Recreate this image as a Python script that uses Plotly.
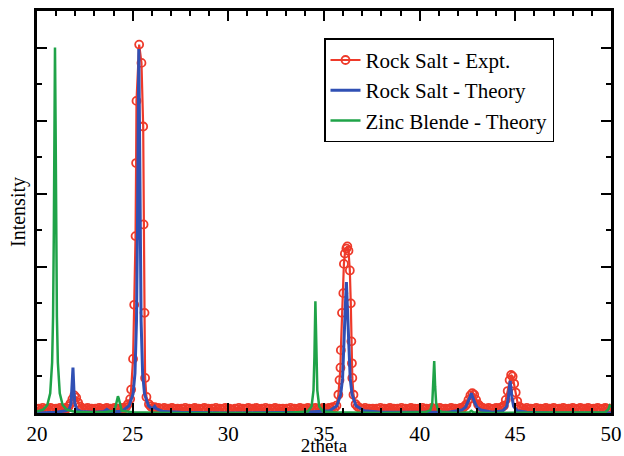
import plotly.graph_objects as go

# ---------------- data ----------------
expt_x = [20.0, 20.1, 20.2, 20.3, 20.4, 20.5, 20.6, 20.7, 20.8, 20.9, 21.0, 21.1, 21.2, 21.3,
          21.4, 21.5, 21.55,
          21.65, 21.75, 21.85, 21.95, 22.05, 22.15, 22.25,
          22.35, 22.45, 22.55, 22.65, 22.75, 22.85, 22.95, 23.05, 23.15, 23.25, 23.35, 23.45,
          23.55, 23.65, 23.75, 23.85, 23.95, 24.05, 24.15, 24.25, 24.35, 24.45, 24.55, 24.65,
          24.75,
          24.87, 24.92, 25.02, 25.08, 25.15, 25.18, 25.20, 25.34, 25.46, 25.55, 25.57,
          25.62, 25.65, 25.72, 25.85,
          25.95, 26.05, 26.15, 26.25, 26.35, 26.45, 26.55, 26.65, 26.75, 26.85, 26.95, 27.05,
          27.15, 27.25, 27.35, 27.45, 27.55, 27.65, 27.75, 27.85, 27.95, 28.05, 28.15, 28.25,
          28.35, 28.45, 28.55, 28.65, 28.75, 28.85, 28.95, 29.05, 29.15, 29.25, 29.35, 29.45,
          29.55, 29.65, 29.75, 29.85, 29.95, 30.05, 30.15, 30.25, 30.35, 30.45, 30.55, 30.65,
          30.75, 30.85, 30.95, 31.05, 31.15, 31.25, 31.35, 31.45, 31.55, 31.65, 31.75, 31.85,
          31.95, 32.05, 32.15, 32.25, 32.35, 32.45, 32.55, 32.65, 32.75, 32.85, 32.95, 33.05,
          33.15, 33.25, 33.35, 33.45, 33.55, 33.65, 33.75, 33.85, 33.95, 34.05, 34.15, 34.25,
          34.35, 34.45, 34.55, 34.65, 34.75, 34.85, 34.95, 35.05, 35.15, 35.25, 35.35, 35.45,
          35.55, 35.65,
          35.75, 35.81, 35.86, 35.88, 35.94, 36.01, 36.04, 36.09, 36.17, 36.22, 36.28,
          36.35, 36.40, 36.43, 36.46, 36.48, 36.54, 36.65,
          36.75, 36.85, 36.95, 37.05, 37.15, 37.25, 37.35, 37.45, 37.55, 37.65, 37.75, 37.85,
          37.95, 38.05, 38.15, 38.25, 38.35, 38.45, 38.55, 38.65, 38.75, 38.85, 38.95, 39.05,
          39.15, 39.25, 39.35, 39.45, 39.55, 39.65, 39.75, 39.85, 39.95, 40.05, 40.15, 40.25,
          40.35, 40.45, 40.55, 40.65, 40.75, 40.85, 40.95, 41.05, 41.15, 41.25, 41.35, 41.45,
          41.55, 41.65, 41.75, 41.85, 41.95, 42.05, 42.15, 42.22,
          42.3, 42.38, 42.45, 42.55, 42.65, 42.75, 42.85, 42.95, 43.05, 43.12, 43.2,
          43.3, 43.4, 43.5, 43.6, 43.7, 43.8, 43.9, 44.0, 44.1, 44.2, 44.3,
          44.4, 44.5, 44.6, 44.7, 44.78, 44.86, 44.94, 45.02, 45.1, 45.2,
          45.3, 45.4, 45.5, 45.6, 45.7, 45.8, 45.9, 46.0, 46.1, 46.2, 46.3, 46.4, 46.5, 46.6,
          46.7, 46.8, 46.9, 47.0, 47.1, 47.2, 47.3, 47.4, 47.5, 47.6, 47.7, 47.8, 47.9, 48.0,
          48.1, 48.2, 48.3, 48.4, 48.5, 48.6, 48.7, 48.8, 48.9, 49.0, 49.1, 49.2, 49.3, 49.4,
          49.5, 49.6, 49.7, 49.8, 49.9, 50.0]
expt_y = [0.05, 0.06, 0.04, 0.07, 0.05, 0.06, 0.05, 0.07, 0.06, 0.05, 0.06, 0.05, 0.07, 0.06,
          0.05, 0.07, 0.06,
          0.09, 0.13, 0.19, 0.24, 0.21, 0.14, 0.09,
          0.07, 0.05, 0.06, 0.07, 0.05, 0.06, 0.04, 0.06, 0.05, 0.07, 0.06, 0.05,
          0.06, 0.07, 0.05, 0.06, 0.05, 0.07, 0.06, 0.05, 0.06, 0.07, 0.06, 0.08,
          0.12,
          0.19, 0.32, 0.74, 1.48, 2.42, 3.42, 4.27, 5.04, 4.79, 3.92, 2.58,
          1.37, 0.48, 0.22, 0.12,
          0.09, 0.07, 0.08, 0.06, 0.07, 0.05, 0.06, 0.07, 0.05, 0.06, 0.05, 0.07,
          0.06, 0.05, 0.06, 0.04, 0.06, 0.05, 0.07, 0.05, 0.06, 0.05, 0.06, 0.07,
          0.05, 0.06, 0.05, 0.06, 0.07, 0.05, 0.06, 0.04, 0.06, 0.05, 0.07, 0.05,
          0.06, 0.05, 0.06, 0.07, 0.05, 0.06, 0.05, 0.04, 0.06, 0.05, 0.07, 0.05,
          0.06, 0.05, 0.06, 0.07, 0.05, 0.06, 0.05, 0.07, 0.06, 0.05, 0.06, 0.05,
          0.07, 0.05, 0.06, 0.05, 0.06, 0.07, 0.05, 0.06, 0.05, 0.06, 0.04, 0.06,
          0.05, 0.07, 0.05, 0.06, 0.05, 0.06, 0.07, 0.05, 0.06, 0.05, 0.07, 0.06,
          0.05, 0.06, 0.07, 0.05, 0.06, 0.05, 0.07, 0.06, 0.05, 0.07, 0.06, 0.08,
          0.07, 0.10,
          0.25, 0.45, 0.62, 0.86, 1.37, 1.64, 2.04, 2.18, 2.25, 2.28, 2.22,
          1.95, 1.50, 0.98, 0.68, 0.48, 0.25, 0.12,
          0.09, 0.07, 0.06, 0.05, 0.07, 0.05, 0.06, 0.05, 0.06, 0.04, 0.06, 0.05,
          0.07, 0.05, 0.06, 0.05, 0.06, 0.07, 0.05, 0.06, 0.05, 0.06, 0.05, 0.07,
          0.05, 0.06, 0.05, 0.06, 0.07, 0.05, 0.06, 0.05, 0.06, 0.05, 0.07, 0.05,
          0.06, 0.05, 0.06, 0.07, 0.05, 0.06, 0.05, 0.07, 0.06, 0.05, 0.06, 0.05,
          0.06, 0.07, 0.05, 0.06, 0.05, 0.06, 0.07, 0.06,
          0.08, 0.10, 0.12, 0.18, 0.24, 0.27, 0.25, 0.18, 0.12, 0.10, 0.08,
          0.07, 0.06, 0.05, 0.07, 0.06, 0.05, 0.06, 0.07, 0.06, 0.07, 0.08,
          0.10, 0.18, 0.30, 0.45, 0.52, 0.50, 0.40, 0.28, 0.16, 0.09,
          0.07, 0.06, 0.05, 0.07, 0.05, 0.06, 0.05, 0.06, 0.07, 0.05, 0.06, 0.05, 0.06, 0.07,
          0.05, 0.06, 0.05, 0.07, 0.06, 0.05, 0.06, 0.05, 0.07, 0.06, 0.05, 0.06, 0.05, 0.07,
          0.06, 0.05, 0.06, 0.07, 0.05, 0.06, 0.05, 0.07, 0.06, 0.05, 0.06, 0.05, 0.07, 0.06,
          0.05, 0.06, 0.07, 0.06, 0.05, 0.06]

rs_theory_x = [20.0, 21.0, 21.5, 21.68, 21.78, 21.83, 21.88, 21.93, 21.98, 22.08, 22.3,
               23.0, 23.5, 23.65, 23.8, 24.3, 24.52, 24.82, 25.02, 25.12, 25.20, 25.25,
               25.285, 25.32, 25.355, 25.39, 25.44, 25.52, 25.62, 25.82, 26.0, 26.08, 26.15,
               26.22, 26.6, 27.5, 30.0, 34.0, 35.3, 35.67, 35.87, 35.97, 36.05, 36.11,
               36.17, 36.23, 36.29, 36.37, 36.47, 36.67, 37.1, 38.0, 41.5, 42.2, 42.4,
               42.52, 42.62, 42.7, 42.78, 42.88, 43.0, 43.2, 43.8, 44.35, 44.55, 44.64,
               44.69, 44.73, 44.77, 44.82, 44.91, 45.1, 45.6, 47.0, 50.0]
rs_theory_y = [0.0, 0.01, 0.03, 0.05, 0.13, 0.31, 0.62, 0.31, 0.13, 0.05, 0.02,
               0.01, 0.02, 0.05, 0.02, 0.02, 0.04, 0.10, 0.26, 0.54, 1.26, 2.49,
               3.98, 4.98, 3.98, 2.49, 1.26, 0.54, 0.26, 0.10, 0.06, 0.07, 0.09,
               0.06, 0.02, 0.01, 0.0, 0.01, 0.03, 0.10, 0.25, 0.47, 0.90, 1.43,
               1.79, 1.43, 0.90, 0.47, 0.25, 0.10, 0.03, 0.01, 0.01, 0.04, 0.08,
               0.14, 0.21, 0.27, 0.21, 0.14, 0.08, 0.04, 0.01, 0.03, 0.09, 0.22,
               0.35, 0.44, 0.35, 0.22, 0.09, 0.03, 0.01, 0.0, 0.0]

zb_theory_x = [20.0, 20.34, 20.54, 20.69, 20.79, 20.84, 20.88, 20.91, 20.94, 20.97,
               21.0, 21.04, 21.09, 21.19, 21.34, 21.54, 21.9, 22.5, 23.5, 24.03, 24.13,
               24.19, 24.23, 24.27, 24.33, 24.43, 25.0, 27.0, 33.0, 34.15, 34.35, 34.45,
               34.5, 34.525, 34.55, 34.575, 34.6, 34.65, 34.75, 34.95, 35.5, 38.0, 40.3,
               40.56, 40.66, 40.71, 40.76, 40.81, 40.86, 40.96, 41.2, 42.0, 42.6, 42.7,
               42.8, 43.5, 46.0, 49.7, 49.86, 49.93, 50.0]
zb_theory_y = [0.02, 0.05, 0.11, 0.27, 0.69, 1.32, 2.5, 4.0, 5.0, 4.0,
               2.5, 1.32, 0.69, 0.27, 0.11, 0.05, 0.02, 0.01, 0.01, 0.03, 0.115,
               0.20, 0.23, 0.20, 0.115, 0.03, 0.01, 0.0, 0.0, 0.02, 0.09, 0.31,
               0.77, 1.22, 1.53, 1.22, 0.77, 0.31, 0.09, 0.02, 0.01, 0.0, 0.01,
               0.04, 0.14, 0.36, 0.71, 0.36, 0.14, 0.04, 0.01, 0.0, 0.01, 0.03,
               0.01, 0.0, 0.0, 0.01, 0.05, 0.10, 0.08]

legend_names = ["Rock Salt - Expt.", "Rock Salt - Theory", "Zinc Blende - Theory"]
x_ticks = [20, 25, 30, 35, 40, 45, 50]

# ---------------- figure ----------------
RED = "#EE3A2A"
BLUE = "#3050B4"
GREEN = "#1FA348"
SERIF = "Liberation Serif, Times New Roman, serif"

fig = go.Figure()
fig.add_trace(go.Scatter(
    x=expt_x, y=expt_y, name=legend_names[0], mode="lines+markers",
    line=dict(color=RED, width=2.2),
    marker=dict(symbol="circle-open", size=8, color=RED, line=dict(width=1.8, color=RED)),
))
fig.add_trace(go.Scatter(
    x=rs_theory_x, y=rs_theory_y, name=legend_names[1], mode="lines",
    line=dict(color=BLUE, width=3),
))
fig.add_trace(go.Scatter(
    x=zb_theory_x, y=zb_theory_y, name=legend_names[2], mode="lines",
    line=dict(color=GREEN, width=2.5),
))

axis_common = dict(
    showline=True, linecolor="black", linewidth=2.5, mirror="allticks",
    ticks="inside", tickcolor="black", tickwidth=2, ticklen=10,
    showgrid=False, zeroline=False, automargin=False,
)

fig.update_layout(
    width=624, height=456,
    margin=dict(l=37, r=13, t=11, b=43),
    paper_bgcolor="white", plot_bgcolor="white",
    font=dict(family=SERIF, color="black", size=21),
    xaxis=dict(
        range=[20, 50], tickvals=x_ticks, ticktext=[str(v) for v in x_ticks],
        tickfont=dict(size=21, family=SERIF),
        minor=dict(dtick=1, ticks="inside", ticklen=5, tickwidth=2, tickcolor="black"),
        title=dict(text="2theta", font=dict(size=19, family=SERIF), standoff=4),
        **axis_common,
    ),
    yaxis=dict(
        range=[0, 5.5], dtick=1, showticklabels=False,
        minor=dict(dtick=0.5, ticks="inside", ticklen=5, tickwidth=2, tickcolor="black"),
        title=dict(text="Intensity", font=dict(size=20, family=SERIF), standoff=4),
        **axis_common,
    ),
    legend=dict(
        x=0.5, y=0.932, xanchor="left", yanchor="top",
        bgcolor="white", bordercolor="black", borderwidth=1.5,
        font=dict(size=21, family=SERIF), tracegroupgap=0, itemwidth=30,
    ),
    showlegend=True,
)

fig.write_html("out.html", config={"displayModeBar": False},
               post_script="document.body.style.margin='0px';")
